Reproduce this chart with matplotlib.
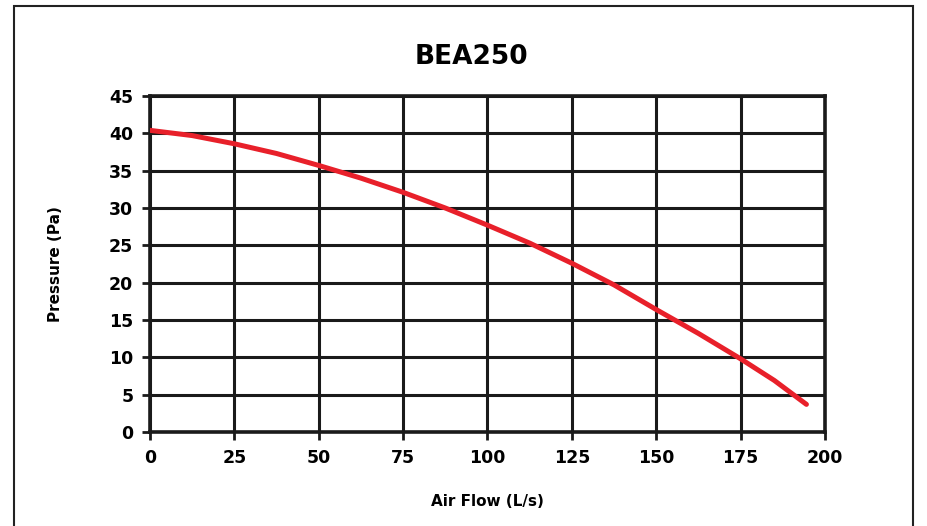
import matplotlib.pyplot as plt
from matplotlib.patches import Rectangle

# ---------------------------------------------------------
# Data
# ---------------------------------------------------------
air_flow = [0, 12.5, 25, 37.5, 50, 62.5, 75, 87.5, 100, 112.5, 125, 137.5, 150, 162.5, 175, 185, 194.5]
pressure = [40.4, 39.7, 38.6, 37.3, 35.7, 34.0, 32.1, 30.0, 27.7, 25.3, 22.6, 19.7, 16.4, 13.2, 9.8, 6.9, 3.7]

x_ticks = [0, 25, 50, 75, 100, 125, 150, 175, 200]
y_ticks = [0, 5, 10, 15, 20, 25, 30, 35, 40, 45]

plt.rcParams["font.family"] = ["DejaVu Sans"]
plt.rcParams["font.weight"] = "bold"

fig = plt.figure(figsize=(9.28, 5.26), dpi=100)
ax = fig.add_axes([0.1616, 0.1787, 0.7274, 0.6388])

# outer frame round the whole chart
fig.patches.append(Rectangle((0.015, -0.05), 0.969, 1.039, transform=fig.transFigure,
                             fill=False, edgecolor="#222222", linewidth=1.5))

ax.plot(air_flow, pressure, color="#e8202a", linewidth=3.6, solid_capstyle="round", zorder=3)

ax.set_xlim(0, 200)
ax.set_ylim(0, 45)
ax.set_xticks(x_ticks)
ax.set_yticks(y_ticks)
ax.grid(True, color="#1a1a1a", linewidth=2.2)
ax.set_axisbelow(True)

for side in ["left", "bottom", "right", "top"]:
    ax.spines[side].set_linewidth(2.6)
    ax.spines[side].set_color("#1a1a1a")

ax.tick_params(axis="both", direction="out", length=6, width=2, color="#1a1a1a",
               labelsize=12.5, pad=6)
for lbl in ax.get_xticklabels() + ax.get_yticklabels():
    lbl.set_fontweight("bold")

ax.set_xlabel("Air Flow (L/s)", fontsize=11, fontweight="bold", labelpad=20)
ax.set_ylabel("Pressure (Pa)", fontsize=11, fontweight="bold", labelpad=33)
fig.suptitle("BEA250", x=0.508, y=0.892, va="center", fontsize=19, fontweight="bold")

fig.savefig("out.png", dpi=100)
